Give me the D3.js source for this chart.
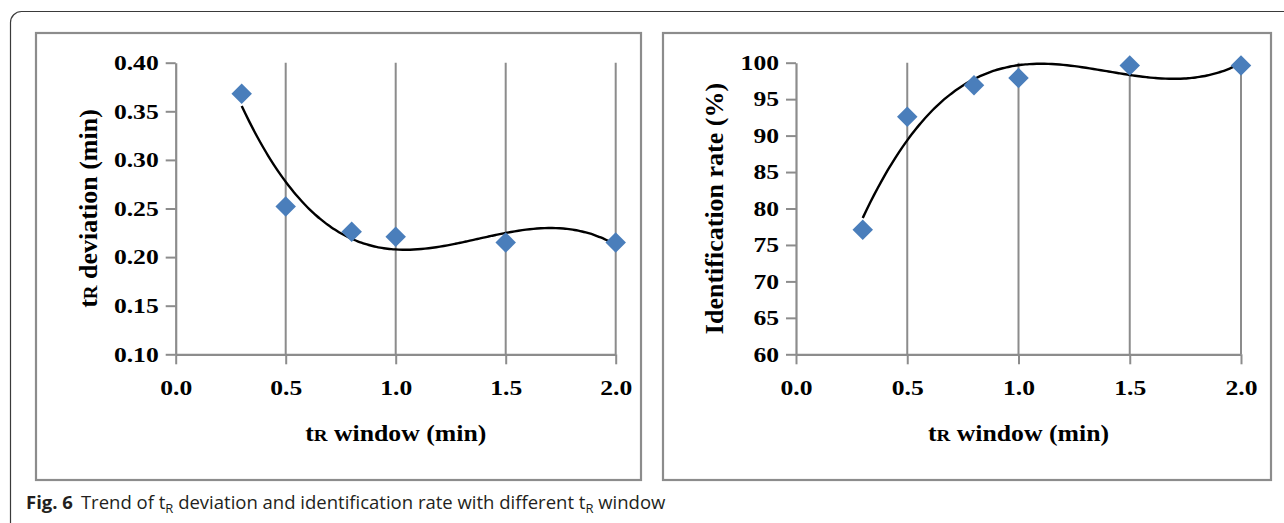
<!DOCTYPE html>
<html lang="en">
<head>
    <meta charset="UTF-8">
    <title>Fig. 6</title>
    <script src="https://d3js.org/d3.v7.min.js"></script>
    <style>
        body { margin: 0; background: #fff; }
        svg { display: block; }
    </style>
</head>
<body>
<script>

    // data
    var windowMin = [0.3, 0.5, 0.8, 1.0, 1.5, 2.0];
    var tRDeviation = [0.368, 0.252, 0.226, 0.221, 0.215, 0.215];
    var identRate = [77.1, 92.6, 96.9, 97.9, 99.6, 99.6];

    var xTicks = [0, 0.5, 1.0, 1.5, 2.0];
    var devTicks = [0.10, 0.15, 0.20, 0.25, 0.30, 0.35, 0.40];
    var rateTicks = [60, 65, 70, 75, 80, 85, 90, 95, 100];

    var width = 1284;
    var height = 523;

    var svg = d3.select("body").append("svg")
        .attr("width", width)
        .attr("height", height)
        .attr("viewBox", [0, 0, width, height]);

    // outer frame (cut by the page on right / bottom)
    svg.append("rect")
        .attr("x", 10.5)
        .attr("y", 11.5)
        .attr("width", width + 20)
        .attr("height", height + 20)
        .attr("rx", 11)
        .attr("fill", "none")
        .attr("stroke", "#3a3a3a")
        .attr("stroke-width", 1.2);

    // least squares polynomial (Excel style trendline)
    function polyFit(xs, ys, order) {
        var n = order + 1;
        var A = [];
        for (var r = 0; r < n; r++) {
            A.push([]);
            for (var c = 0; c < n; c++) {
                A[r].push(d3.sum(xs, function (x) { return Math.pow(x, r + c); }));
            }
            A[r].push(d3.sum(xs, function (x, i) { return ys[i] * Math.pow(x, r); }));
        }
        for (var k = 0; k < n; k++) {
            var p = k;
            for (var r = k + 1; r < n; r++) if (Math.abs(A[r][k]) > Math.abs(A[p][k])) p = r;
            var tmp = A[k]; A[k] = A[p]; A[p] = tmp;
            for (var r = k + 1; r < n; r++) {
                var f = A[r][k] / A[k][k];
                for (var c = k; c <= n; c++) A[r][c] -= f * A[k][c];
            }
        }
        var coef = new Array(n).fill(0);
        for (var r = n - 1; r >= 0; r--) {
            var s = A[r][n];
            for (var c = r + 1; c < n; c++) s -= A[r][c] * coef[c];
            coef[r] = s / A[r][r];
        }
        return function (x) {
            return d3.sum(coef, function (a, i) { return a * Math.pow(x, i); });
        };
    }

    var serif = "'Liberation Serif', 'Times New Roman', serif";
    var stretch = 1.22;   // the original figure is stretched sideways

    function drawPanel(opt) {
        var g = svg.append("g");

        g.append("rect")
            .attr("x", opt.box[0])
            .attr("y", opt.box[1])
            .attr("width", opt.box[2] - opt.box[0])
            .attr("height", opt.box[3] - opt.box[1])
            .attr("fill", "none")
            .attr("stroke", "#8c8c8c")
            .attr("stroke-width", 2.2);

        var xScale = d3.scaleLinear().domain([0, 2]).range(opt.xRange);
        var yScale = d3.scaleLinear().domain(opt.yDomain).range([354.3, 62.7]);

        // vertical grid lines
        g.selectAll(".grid")
            .data(xTicks.slice(1))
            .enter().append("line")
            .attr("x1", function (d) { return xScale(d); })
            .attr("x2", function (d) { return xScale(d); })
            .attr("y1", yScale.range()[1])
            .attr("y2", yScale.range()[0])
            .attr("stroke", "#8c8c8c")
            .attr("stroke-width", 2);

        var xAxis = d3.axisBottom(xScale)
            .tickValues(xTicks)
            .tickFormat(d3.format(".1f"))
            .tickSize(10)
            .tickSizeOuter(0)
            .tickPadding(16);
        var yAxis = d3.axisLeft(yScale)
            .tickValues(opt.yTicks)
            .tickFormat(opt.yFormat)
            .tickSize(10)
            .tickSizeOuter(0)
            .tickPadding(7);

        [g.append("g").attr("transform", "translate(0," + yScale.range()[0] + ")").call(xAxis),
         g.append("g").attr("transform", "translate(" + opt.xRange[0] + ",0)").call(yAxis)]
            .forEach(function (ax) {
                ax.select(".domain").attr("stroke", "#8c8c8c").attr("stroke-width", 2.2);
                ax.selectAll(".tick line").attr("stroke", "#8c8c8c").attr("stroke-width", 2);
                ax.selectAll(".tick text")
                    .attr("fill", "#000")
                    .attr("font-family", serif)
                    .attr("font-weight", "bold")
                    .attr("font-size", "21px")
                    .attr("x", function () { return (+d3.select(this).attr("x") || 0) / stretch; })
                    .attr("transform", "scale(" + stretch + ",1)");
            });

        // trend line
        var fit = polyFit(windowMin, opt.values, 3);
        var xs = d3.range(0, 101).map(function (i) {
            return windowMin[0] + (windowMin[windowMin.length - 1] - windowMin[0]) * i / 100;
        });
        var line = d3.line()
            .x(function (d) { return xScale(d); })
            .y(function (d) { return yScale(fit(d)); })
            .curve(d3.curveBasis);
        g.append("path")
            .datum(xs)
            .attr("fill", "none")
            .attr("stroke", "#000")
            .attr("stroke-width", 2.4)
            .attr("d", line);

        // markers
        var diamond = d3.symbol().type(d3.symbolSquare).size(210);
        g.selectAll(".pt")
            .data(windowMin)
            .enter().append("path")
            .attr("transform", function (d, i) {
                return "translate(" + xScale(d) + "," + yScale(opt.values[i]) + ") rotate(45)";
            })
            .attr("d", diamond)
            .attr("fill", "#4a7ebb");

        // x title
        var xt = g.append("text")
            .attr("transform", "translate(" + (opt.xRange[0] + opt.xRange[1]) / 2 + ",441) scale(1.12,1)")
            .attr("text-anchor", "middle")
            .attr("font-family", serif)
            .attr("font-weight", "bold")
            .attr("font-size", "23px");
        xt.append("tspan").text("t");
        xt.append("tspan").attr("font-size", "17px").text("R");
        xt.append("tspan").text(" window (min)");

        // y title
        var yt = g.append("text")
            .attr("transform", "translate(" + opt.yTitleX + "," + 208.5 + ") rotate(-90)")
            .attr("text-anchor", "middle")
            .attr("font-family", serif)
            .attr("font-weight", "bold")
            .attr("font-size", "26px");
        opt.yTitle.forEach(function (p) {
            var ts = yt.append("tspan").text(p.t);
            if (p.small) ts.attr("font-size", "19px");
        });
    }

    drawPanel({
        box: [36, 33, 641, 480],
        xRange: [175.7, 615.7],
        yDomain: [0.10, 0.40],
        yTicks: devTicks,
        yFormat: d3.format(".2f"),
        values: tRDeviation,
        yTitleX: 97,
        yTitle: [{t: "t"}, {t: "R", small: true}, {t: " deviation (min)"}]
    });

    drawPanel({
        box: [663, 33, 1271, 480],
        xRange: [796, 1241],
        yDomain: [60, 100],
        yTicks: rateTicks,
        yFormat: d3.format("d"),
        values: identRate,
        yTitleX: 723,
        yTitle: [{t: "Identification rate (%)"}]
    });

    // caption
    var cap = svg.append("text")
        .attr("x", 26)
        .attr("y", 509)
        .attr("font-family", "'Open Sans', 'Noto Sans', sans-serif")
        .attr("font-size", "18.5px")
        .attr("fill", "#231f20");
    cap.append("tspan").attr("font-weight", "bold").text("Fig. 6");
    cap.append("tspan").attr("dx", 8).text("Trend of t");
    cap.append("tspan").attr("font-size", "13px").attr("dy", 4).text("R");
    cap.append("tspan").attr("dy", -4).text(" deviation and identification rate with different t");
    cap.append("tspan").attr("font-size", "13px").attr("dy", 4).text("R");
    cap.append("tspan").attr("dy", -4).text(" window");

</script>
</body>
</html>
